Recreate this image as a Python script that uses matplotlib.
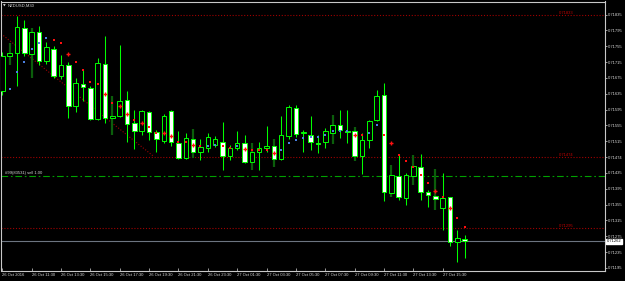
import matplotlib
matplotlib.use('Agg')
import matplotlib.pyplot as plt
from matplotlib.patches import Rectangle

# ---------------- data ----------------
opens = [0.71641, 0.71730, 0.71738, 0.71800, 0.71736, 0.71790, 0.71717, 0.71749, 0.71679, 0.71708,
         0.71605, 0.71660, 0.71650, 0.71571, 0.71711, 0.71574, 0.71580, 0.71618, 0.71560, 0.71541,
         0.71590, 0.71538, 0.71516, 0.71592, 0.71511, 0.71472, 0.71520, 0.71488, 0.71498, 0.71506,
         0.71513, 0.71477, 0.71498, 0.71510, 0.71462, 0.71487, 0.71498, 0.71502, 0.71470, 0.71527,
         0.71598, 0.71537, 0.71531, 0.71510, 0.71512, 0.71537, 0.71555, 0.71542, 0.71542, 0.71477,
         0.71517, 0.71568, 0.71633, 0.71384, 0.71428, 0.71371, 0.71428, 0.71450, 0.71386, 0.71376,
         0.71346, 0.71373, 0.71261, 0.71269]
highs = [0.71741, 0.71764, 0.71831, 0.71820, 0.71801, 0.71805, 0.71766, 0.71755, 0.71732, 0.71714,
         0.71675, 0.71696, 0.71655, 0.71725, 0.71782, 0.71630, 0.71759, 0.71643, 0.71595, 0.71595,
         0.71592, 0.71544, 0.71584, 0.71594, 0.71540, 0.71536, 0.71546, 0.71520, 0.71536, 0.71527,
         0.71564, 0.71505, 0.71540, 0.71531, 0.71511, 0.71514, 0.71554, 0.71521, 0.71578, 0.71607,
         0.71607, 0.71544, 0.71578, 0.71531, 0.71548, 0.71582, 0.71595, 0.71593, 0.71552, 0.71536,
         0.71568, 0.71645, 0.71662, 0.71454, 0.71483, 0.71434, 0.71481, 0.71483, 0.71392, 0.71445,
         0.71436, 0.71375, 0.71291, 0.71278]
lows = [0.71633, 0.71708, 0.71655, 0.71730, 0.71675, 0.71708, 0.71711, 0.71675, 0.71673, 0.71574,
        0.71590, 0.71616, 0.71568, 0.71568, 0.71562, 0.71531, 0.71577, 0.71514, 0.71495, 0.71531,
        0.71519, 0.71487, 0.71510, 0.71504, 0.71470, 0.71470, 0.71472, 0.71468, 0.71489, 0.71500,
        0.71443, 0.71468, 0.71493, 0.71460, 0.71443, 0.71443, 0.71487, 0.71449, 0.71468, 0.71520,
        0.71526, 0.71489, 0.71492, 0.71485, 0.71498, 0.71509, 0.71523, 0.71510, 0.71464, 0.71433,
        0.71499, 0.71567, 0.71365, 0.71373, 0.71367, 0.71354, 0.71405, 0.71367, 0.71350, 0.71342,
        0.71291, 0.71251, 0.71211, 0.71221]
closes = [0.71730, 0.71738, 0.71804, 0.71738, 0.71791, 0.71717, 0.71753, 0.71681, 0.71708, 0.71603,
          0.71662, 0.71651, 0.71571, 0.71713, 0.71574, 0.71579, 0.71617, 0.71558, 0.71541, 0.71591,
          0.71538, 0.71520, 0.71579, 0.71514, 0.71472, 0.71522, 0.71488, 0.71500, 0.71526, 0.71520,
          0.71477, 0.71498, 0.71510, 0.71462, 0.71489, 0.71498, 0.71504, 0.71470, 0.71532, 0.71601,
          0.71534, 0.71537, 0.71512, 0.71509, 0.71542, 0.71557, 0.71544, 0.71539, 0.71478, 0.71518,
          0.71567, 0.71630, 0.71388, 0.71430, 0.71375, 0.71430, 0.71453, 0.71388, 0.71378, 0.71370,
          0.71371, 0.71261, 0.71270, 0.71262]
dark_wick_bars = [1, 4, 15, 26, 34, 37, 45, 48, 53, 56, 59]

red_sq_bars = [7, 8, 10, 11, 12, 13, 15, 18, 20, 21, 24, 25, 27, 30, 31, 34, 35, 36, 49, 52,
               54, 55, 56, 57, 58, 60, 62, 63]
red_sq_vals = [0.71770, 0.71763, 0.71716, 0.71696, 0.71664, 0.71660, 0.71612, 0.71568, 0.71550,
               0.71537, 0.71514, 0.71512, 0.71502, 0.71502, 0.71498, 0.71493, 0.71492, 0.71492,
               0.71530, 0.71530, 0.71481, 0.71464, 0.71451, 0.71430, 0.71409, 0.71374, 0.71322,
               0.71299]
red_plus_bars = [9, 14, 16, 17, 19, 22, 23, 26, 33, 37, 48, 53, 59, 61]
red_plus_vals = [0.71736, 0.71634, 0.71603, 0.71585, 0.71562, 0.71536, 0.71528, 0.71505, 0.71495,
                 0.71485, 0.71531, 0.71510, 0.71389, 0.71346]
blue_bars = [1, 2, 3, 4, 5, 6, 28, 29, 32, 38, 39, 40, 41, 42, 43, 44, 45, 46, 47, 50, 51]
blue_vals = [0.71647, 0.71690, 0.71716, 0.71748, 0.71762, 0.71775, 0.71504, 0.71506, 0.71502,
             0.71492, 0.71510, 0.71517, 0.71522, 0.71526, 0.71526, 0.71530, 0.71540, 0.71541,
             0.71542, 0.71537, 0.71557]

trend_bars = [0.14, 20.67]
trend_vals = [0.71782, 0.71476]

red_levels = [0.71833, 0.71474, 0.71295]
red_level_texts = ["0.71833", "0.71474", "0.71295"]
order_level = 0.71428
order_text = "#99(83531) sell 1.00"
bid_price = 0.71262

x_tick_bars = [0, 4, 8, 12, 16, 20, 24, 28, 32, 36, 40, 44, 48, 52, 56, 60]
x_tick_labels = ["26 Oct 2016", "26 Oct 11:30", "26 Oct 13:30", "26 Oct 15:30", "26 Oct 17:30",
                 "26 Oct 19:30", "26 Oct 21:30", "26 Oct 23:30", "27 Oct 01:30", "27 Oct 03:30",
                 "27 Oct 05:30", "27 Oct 07:30", "27 Oct 09:30", "27 Oct 11:30", "27 Oct 13:30",
                 "27 Oct 15:30"]
y_tick_labels = ["0.71835", "0.71795", "0.71755", "0.71715", "0.71675", "0.71635", "0.71595",
                 "0.71555", "0.71515", "0.71474", "0.71435", "0.71395", "0.71355", "0.71315",
                 "0.71275", "0.71235", "0.71195"]

# ---------------- drawing ----------------
W, H = 625, 281
fig = plt.figure(figsize=(W / 100, H / 100), dpi=100, facecolor='black')
left_px, right_px, top_px, bot_px = 1.5, 605, 1.5, 271
ax = fig.add_axes([left_px / W, 1 - bot_px / H, (right_px - left_px) / W, (bot_px - top_px) / H])
ax.set_facecolor('black')

bar_w_px = 7.34
x0_px = 2.3
ax.set_xlim((left_px - x0_px) / bar_w_px, (right_px - x0_px) / bar_w_px)
ax.set_ylim(0.711873, 0.718679)

GREEN = '#00ff00'
DARK = '#0b5e0b'
FG = '#d8d8d8'
RED = '#c00000'
font = ['Liberation Sans', 'DejaVu Sans']
FS = 3.0

# wicks
for i in range(len(opens)):
    if i in dark_wick_bars:
        ax.vlines(i, lows[i], highs[i], color=DARK, lw=1.6, zorder=2)
    else:
        ax.vlines(i, lows[i], highs[i], color=GREEN, lw=0.75, zorder=2)

# bodies
bw = 0.62
for i in range(len(opens)):
    o, c = opens[i], closes[i]
    bottom = min(o, c)
    h = max(abs(c - o), 0.000005)
    fc = 'black' if c >= o else 'white'
    ax.add_patch(Rectangle((i - bw / 2, bottom), bw, h, facecolor=fc, edgecolor=GREEN,
                           lw=0.7, zorder=3))

# indicator markers
ax.plot(red_sq_bars, red_sq_vals, 's', color='#ff1010', ms=2.0, mew=0, zorder=4)
ax.plot(red_plus_bars, red_plus_vals, '+', color='#ff1010', ms=2.8, mew=1.0, zorder=4)
ax.plot(blue_bars, blue_vals, 's', color='#4a7fe0', ms=2.0, mew=0, zorder=4)

# horizontal lines
for lv, tx in zip(red_levels, red_level_texts):
    ax.axhline(lv, color='#a00000', lw=0.8, ls=(0, (1, 1.6)), zorder=1)
    ax.text(77.8, lv + 0.00001, tx, color=RED, fontsize=FS, family=font,
            ha='right', va='bottom', zorder=5)
ax.axhline(order_level, color='#00a000', lw=0.8, ls=(0, (6, 2.5, 1.5, 2.5)), zorder=1)
ax.text(0.3, order_level + 0.00002, order_text, color=FG, fontsize=FS, family=font,
        ha='left', va='bottom', zorder=5)
ax.axhline(bid_price, color='#6c7480', lw=0.8, zorder=1)
ax.plot(trend_bars, trend_vals, color='#a00000', lw=0.8, ls=(0, (1, 1.6)), zorder=1)

# frame
for s in ax.spines.values():
    s.set_color('#c8c8c8')
    s.set_linewidth(0.8)

# y ticks on the right
y_top = 0.71835
y_step = 0.0004
yt = [y_top - k * y_step for k in range(len(y_tick_labels))]
ax.yaxis.tick_right()
ax.set_yticks(yt)
ax.set_yticklabels(y_tick_labels)
ax.tick_params(axis='y', colors=FG, labelsize=FS, length=1.5, width=0.5, pad=0.6,
               labelcolor=FG)
for lab in ax.get_yticklabels():
    lab.set_family(font)

# x ticks
ax.set_xticks(x_tick_bars)
ax.set_xticklabels(x_tick_labels)
ax.tick_params(axis='x', colors=FG, labelsize=FS, length=2, width=0.5, pad=1.5, direction='in')
for lab in ax.get_xticklabels():
    lab.set_family(font)
    lab.set_horizontalalignment('left')

# bid price box on axis
ax.annotate("0.71262", xy=(1.0, bid_price), xycoords=('axes fraction', 'data'),
            xytext=(1.2, 0), textcoords='offset points', fontsize=FS, family=font,
            color='black', va='center', ha='left',
            bbox=dict(boxstyle='square,pad=0.1', fc='white', ec='white'))

# title
fig.text(8 / W, 1 - 5.5 / H, "NZDUSD,M30", color=FG, fontsize=FS, family=font, va='center')
fig.text(3 / W, 1 - 5.5 / H, "\u25BC", color=FG, fontsize=2.5, family=['DejaVu Sans'], va='center')

fig.savefig('out.png', dpi=100, facecolor='black')
